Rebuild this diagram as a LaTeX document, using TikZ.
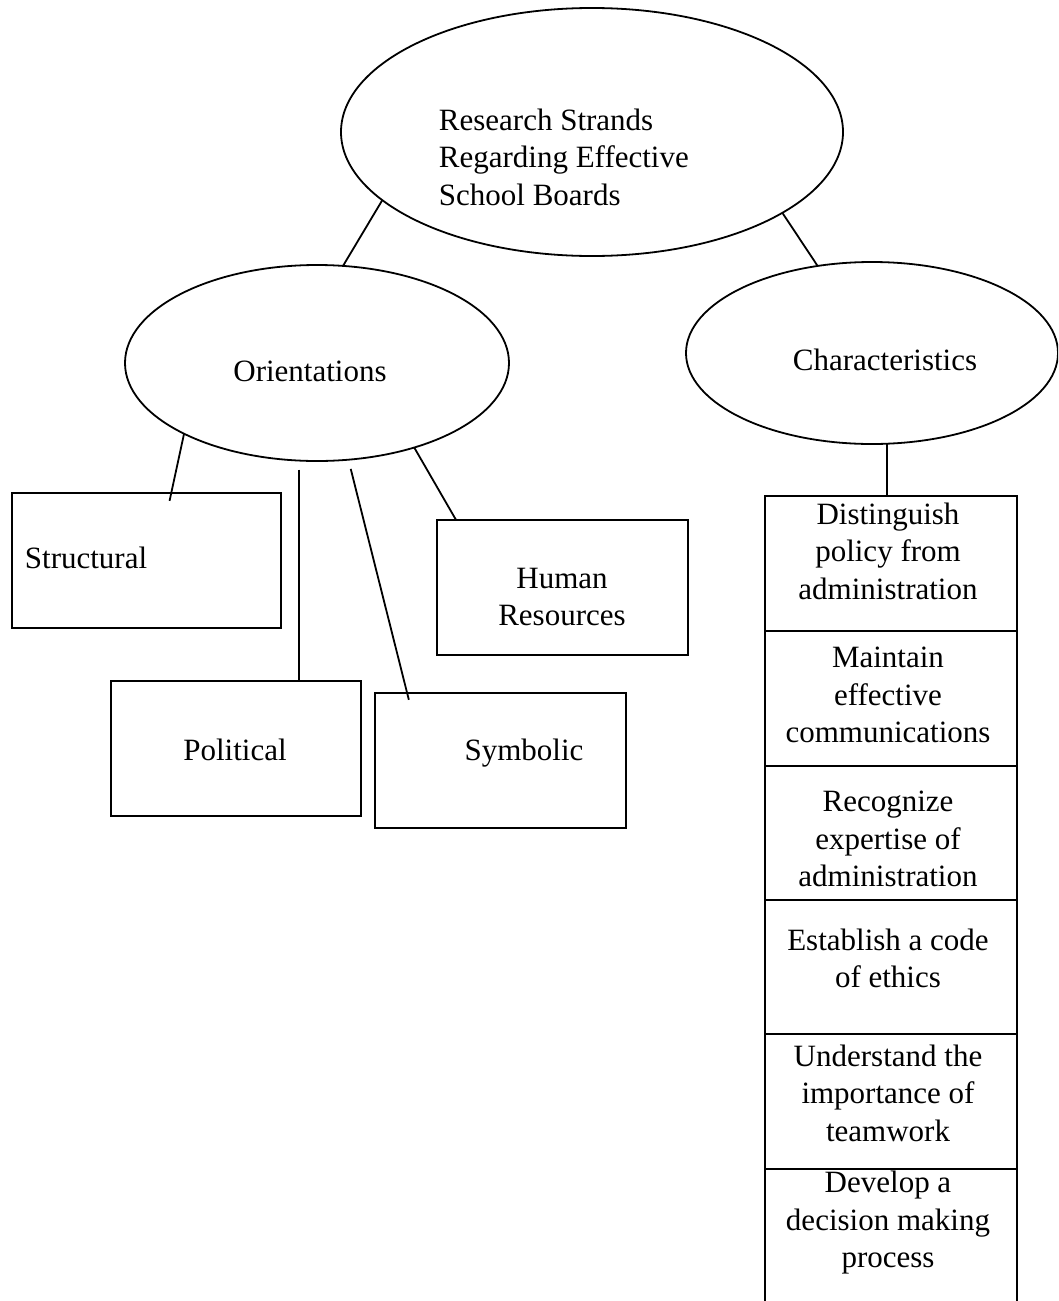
\documentclass[tikz,border=0pt]{standalone}
\usepackage{fontspec}
\setmainfont{Liberation Serif}
\usetikzlibrary{shapes.geometric,calc}
\begin{document}
\begin{tikzpicture}[x=1pt,y=-1pt,
  line width=1.8pt,
  oval/.style={draw, ellipse, inner sep=0pt, outer sep=0pt},
  box/.style={draw, rectangle, inner sep=0pt, outer sep=0pt},
  lbl/.style={inner sep=0pt, align=center, font=\fontsize{31}{37.5}\selectfont}]
\fill[white] (0,0) rectangle (1058,1301);
\path[use as bounding box, clip] (0,0) rectangle (1058,1301);

% ellipses
\node[oval, minimum width=502pt, minimum height=248pt] (top) at (592,132) {};
\node[lbl, align=left, anchor=west] (toptext) at (438,157) {Research Strands\\Regarding Effective\\School Boards};
\node[oval, minimum width=384pt, minimum height=196pt] (orient) at (317,363) {};
\node[lbl] (orienttext) at (310,371) {Orientations};
\node[oval, minimum width=372pt, minimum height=182pt] (char) at (872,353) {};
\node[lbl] (chartext) at (885,360) {Characteristics};

% orientation boxes
\node[box, minimum width=269pt, minimum height=135pt] (struct) at (146.5,560.5) {};
\node[lbl, anchor=west] (structtext) at (24,558) {Structural};
\node[box, minimum width=250pt, minimum height=135pt] (pol) at (236,748.5) {};
\node[lbl] (poltext) at (235,750) {Political};
\node[box, minimum width=251pt, minimum height=135pt] (sym) at (500.5,760.5) {};
\node[lbl] (symtext) at (524,753) {Symbolic};
\node[box, minimum width=251pt, minimum height=135pt] (hr) at (562.5,587.5) {};
\node[lbl] (hrtext) at (562,597) {Human\\Resources};

% characteristics column
\node[box, minimum width=252pt, minimum height=135pt] (c1) at (891,563.5) {};
\node[box, minimum width=252pt, minimum height=135pt] (c2) at (891,698.5) {};
\node[box, minimum width=252pt, minimum height=134pt] (c3) at (891,833) {};
\node[box, minimum width=252pt, minimum height=134pt] (c4) at (891,967) {};
\node[box, minimum width=252pt, minimum height=135pt] (c5) at (891,1101.5) {};
\node[box, minimum width=252pt, minimum height=141pt] (c6) at (891,1239.5) {};
\node[lbl] (t1) at (888,551) {Distinguish\\policy from\\administration};
\node[lbl] (t2) at (888,695) {Maintain\\effective\\communications};
\node[lbl] (t3) at (888,839) {Recognize\\expertise of\\administration};
\node[lbl] (t4) at (888,958.5) {Establish a code\\of ethics};
\node[lbl] (t5) at (888,1093) {Understand the\\importance of\\teamwork};
\node[lbl] (t6) at (888,1223) {Develop a\\decision making\\process};

% connectors
\draw (top.198) -- (orient.75);
\draw (top.-23) -- (char.122);
\coordinate (cj) at ($(c1.north west)!0.485!(c1.north east)$);
\draw (cj |- char.south) -- (cj);
\coordinate (stj) at ($(struct.north west)!0.592!(struct.north east)$);
\draw[shorten >=-8pt] (orient.208) -- (stj);
\coordinate (pj) at ($(pol.north west)!0.752!(pol.north east)$);
\draw[shorten <=9pt] (pj |- orient.-100) -- (pj);
\coordinate (sj) at ($(sym.north west)!0.128!(sym.north east)$);
\draw[shorten <=9.5pt, shorten >=-7pt] (orient.-72) -- (sj);
\coordinate (hj) at ($(hr.north west)!0.076!(hr.north east)$);
\draw (orient.-41) -- (hj);
\end{tikzpicture}
\end{document}
